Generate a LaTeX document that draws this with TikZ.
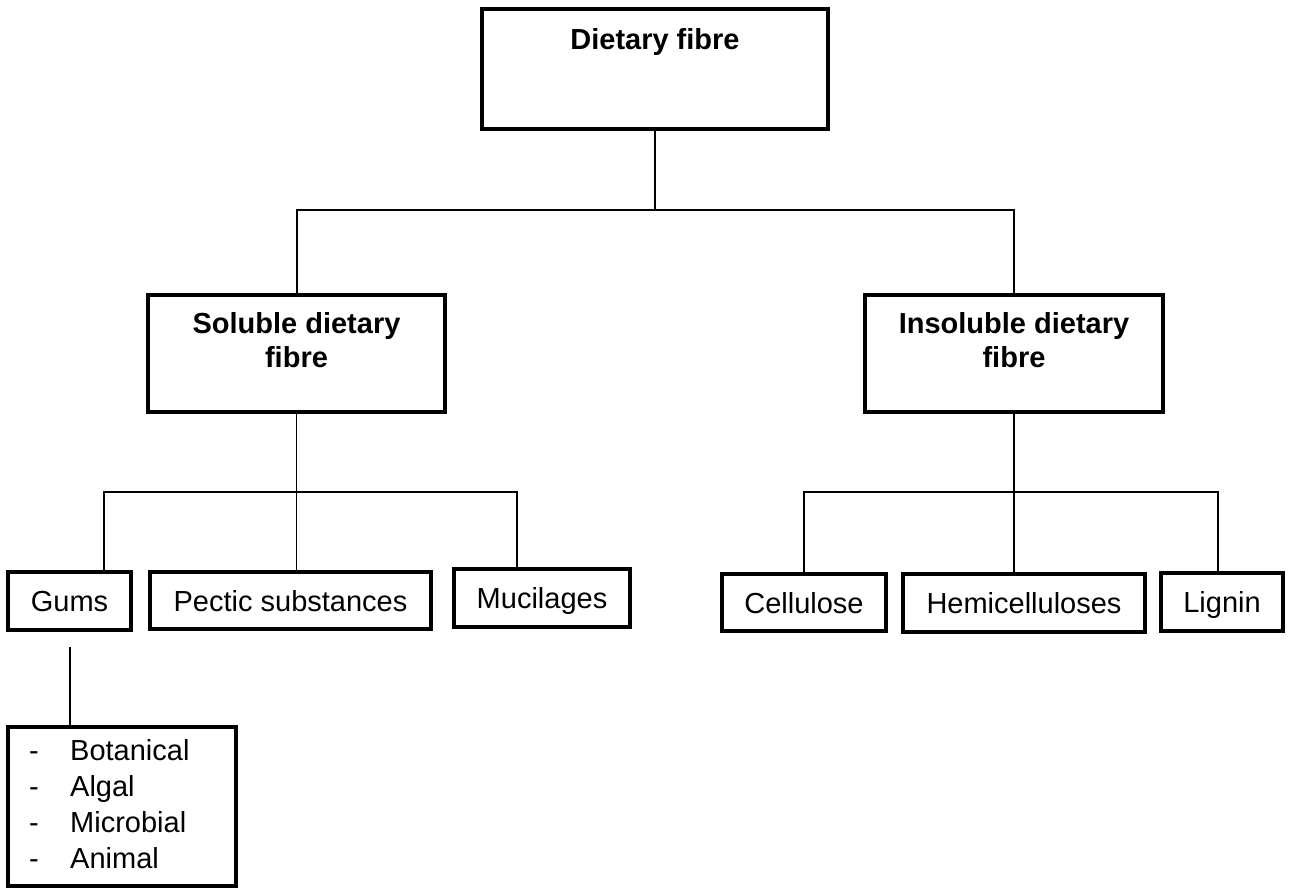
\documentclass[tikz,border=0pt]{standalone}
\usepackage{fontspec}
\setmainfont{Liberation Sans}
\begin{document}
\begin{tikzpicture}[x=1pt,y=-1pt,
  box/.style={draw=black, line width=3.5pt, inner sep=0pt, outer sep=0pt,
    rectangle, font=\fontsize{29}{34}\selectfont, text height=21pt, text depth=0pt},
  head/.style={font=\fontsize{29}{34}\selectfont\bfseries, inner sep=0pt, anchor=base},
  item/.style={font=\fontsize{29}{34}\selectfont, inner sep=0pt, anchor=base west},
  conn/.style={draw=black, line width=2pt},
  thinconn/.style={draw=black, line width=1.6pt}]
\useasboundingbox (0,0) rectangle (1290,888);

% top level
\node[box, minimum width=346, minimum height=120] (top) at (655,69) {};
\node[head] (toptxt) at (655,50) {Dietary fibre};

% second level
\node[box, minimum width=297, minimum height=117] (sol) at (296.5,353.5) {};
\node[head] (sol1) at (296.5,333) {Soluble dietary};
\node[head] (sol2) at (296.5,367) {fibre};

\node[box, minimum width=298, minimum height=117] (ins) at (1014,353.5) {};
\node[head] (ins1) at (1014,333) {Insoluble dietary};
\node[head] (ins2) at (1014,367) {fibre};

\coordinate (j0) at (655,210);
\draw[conn] (top.south) -- (j0);
\draw[conn] (sol.north) |- (j0) -| (ins.north);

% soluble fibre components
\node[box, minimum width=123, minimum height=58] (gums) at (69.5,601) {Gums};
\node[box, minimum width=281, minimum height=57] (pec) at (290.5,600.5) {Pectic substances};
\node[box, minimum width=176, minimum height=58] (muc) at (542,598) {Mucilages};

\coordinate (j1) at (296.5,492);
\coordinate (ga) at (104,492);
\coordinate (ma) at (517,492);
\draw[thinconn] (sol.south) -- (j1);
\draw[thinconn] (ga |- gums.north) -- (ga) -- (ma) -- (ma |- muc.north);
\draw[thinconn] (j1) -- (j1 |- pec.north);

% insoluble fibre components
\node[box, minimum width=164, minimum height=57] (cel) at (804,602.5) {Cellulose};
\node[box, minimum width=242, minimum height=58] (hem) at (1024,603) {Hemicelluloses};
\node[box, minimum width=122, minimum height=58] (lig) at (1222,602) {Lignin};

\coordinate (j2) at (1014,492);
\coordinate (ca) at (804,492);
\coordinate (la) at (1218,492);
\draw[thinconn] (ins.south) -- (j2);
\draw[thinconn] (ca |- cel.north) -- (ca) -- (la) -- (la |- lig.north);
\draw[thinconn] (j2) -- (j2 |- hem.north);

% sources of gums
\node[box, minimum width=228, minimum height=159] (src) at (122,806.5) {};
\coordinate (gt) at (69.5,647);
\draw[conn] (gt) -- (gt |- src.north);

\foreach \w/\y [count=\i] in {Botanical/760, Algal/796, Microbial/832, Animal/868}{
  \node[item] (dash\i) at (29,\y) {-};
  \node[item] (src\i) at (70,\y) {\w};
}
\end{tikzpicture}
\end{document}
